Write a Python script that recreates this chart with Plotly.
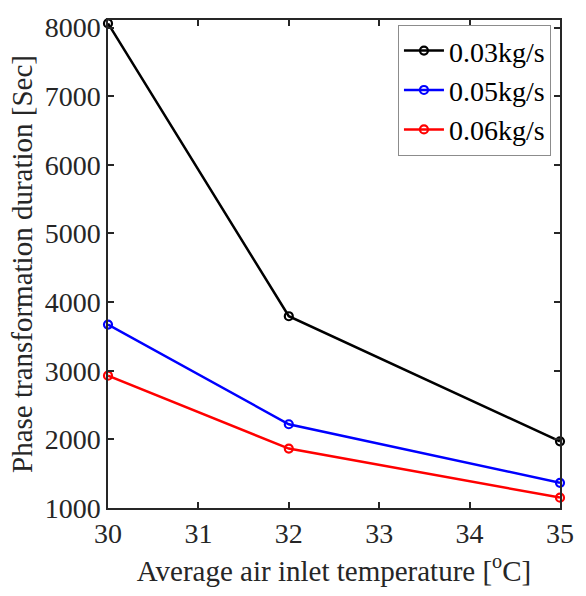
import plotly.graph_objects as go

temps = [30, 32, 35]
flow_03 = [8060, 3794, 1971]
flow_05 = [3672, 2220, 1367]
flow_06 = [2928, 1866, 1151]
series_names = ["0.03kg/s", "0.05kg/s", "0.06kg/s"]
series_colors = ["#000000", "#0000ff", "#ff0000"]
x_ticks = [30, 31, 32, 33, 34, 35]
y_ticks = [1000, 2000, 3000, 4000, 5000, 6000, 7000, 8000]

FONT = "Liberation Serif"
fig = go.Figure()
for name, ys, col in zip(series_names, [flow_03, flow_05, flow_06], series_colors):
    fig.add_trace(go.Scatter(
        x=temps, y=ys, name=name, mode="lines+markers",
        line=dict(color=col, width=2.5),
        marker=dict(symbol="circle-open", size=8, color=col, line=dict(width=2.2, color=col)),
        cliponaxis=False,
    ))

axis_common = dict(
    showline=True, linecolor="#262626", linewidth=1.5, mirror="ticks",
    ticks="inside", ticklen=6, tickwidth=1.5, tickcolor="#262626",
    showgrid=False, zeroline=False,
    tickfont=dict(family=FONT, size=28, color="#262626"),
)
fig.update_layout(
    width=586, height=596,
    margin=dict(l=108, r=14, t=12, b=88),
    paper_bgcolor="white", plot_bgcolor="white",
    font=dict(family=FONT, color="#262626"),
    xaxis=dict(range=[30, 35], tickvals=x_ticks,
               title=dict(text="Average air inlet temperature [<sup>o</sup>C]",
                          font=dict(family=FONT, size=29, color="#262626"), standoff=12),
               **axis_common),
    yaxis=dict(range=[1000, 8110], tickvals=y_ticks,
               title=dict(text="Phase transformation duration [Sec]",
                          font=dict(family=FONT, size=29, color="#262626"), standoff=4),
               **axis_common),
    legend=dict(x=0.98, y=0.99, xanchor="right", yanchor="top",
                bgcolor="white", bordercolor="#8c8c8c", borderwidth=1,
                font=dict(family=FONT, size=28, color="#000000"),
                itemwidth=40, tracegroupgap=0),
    showlegend=True,
)
fig.write_html("out.html")
